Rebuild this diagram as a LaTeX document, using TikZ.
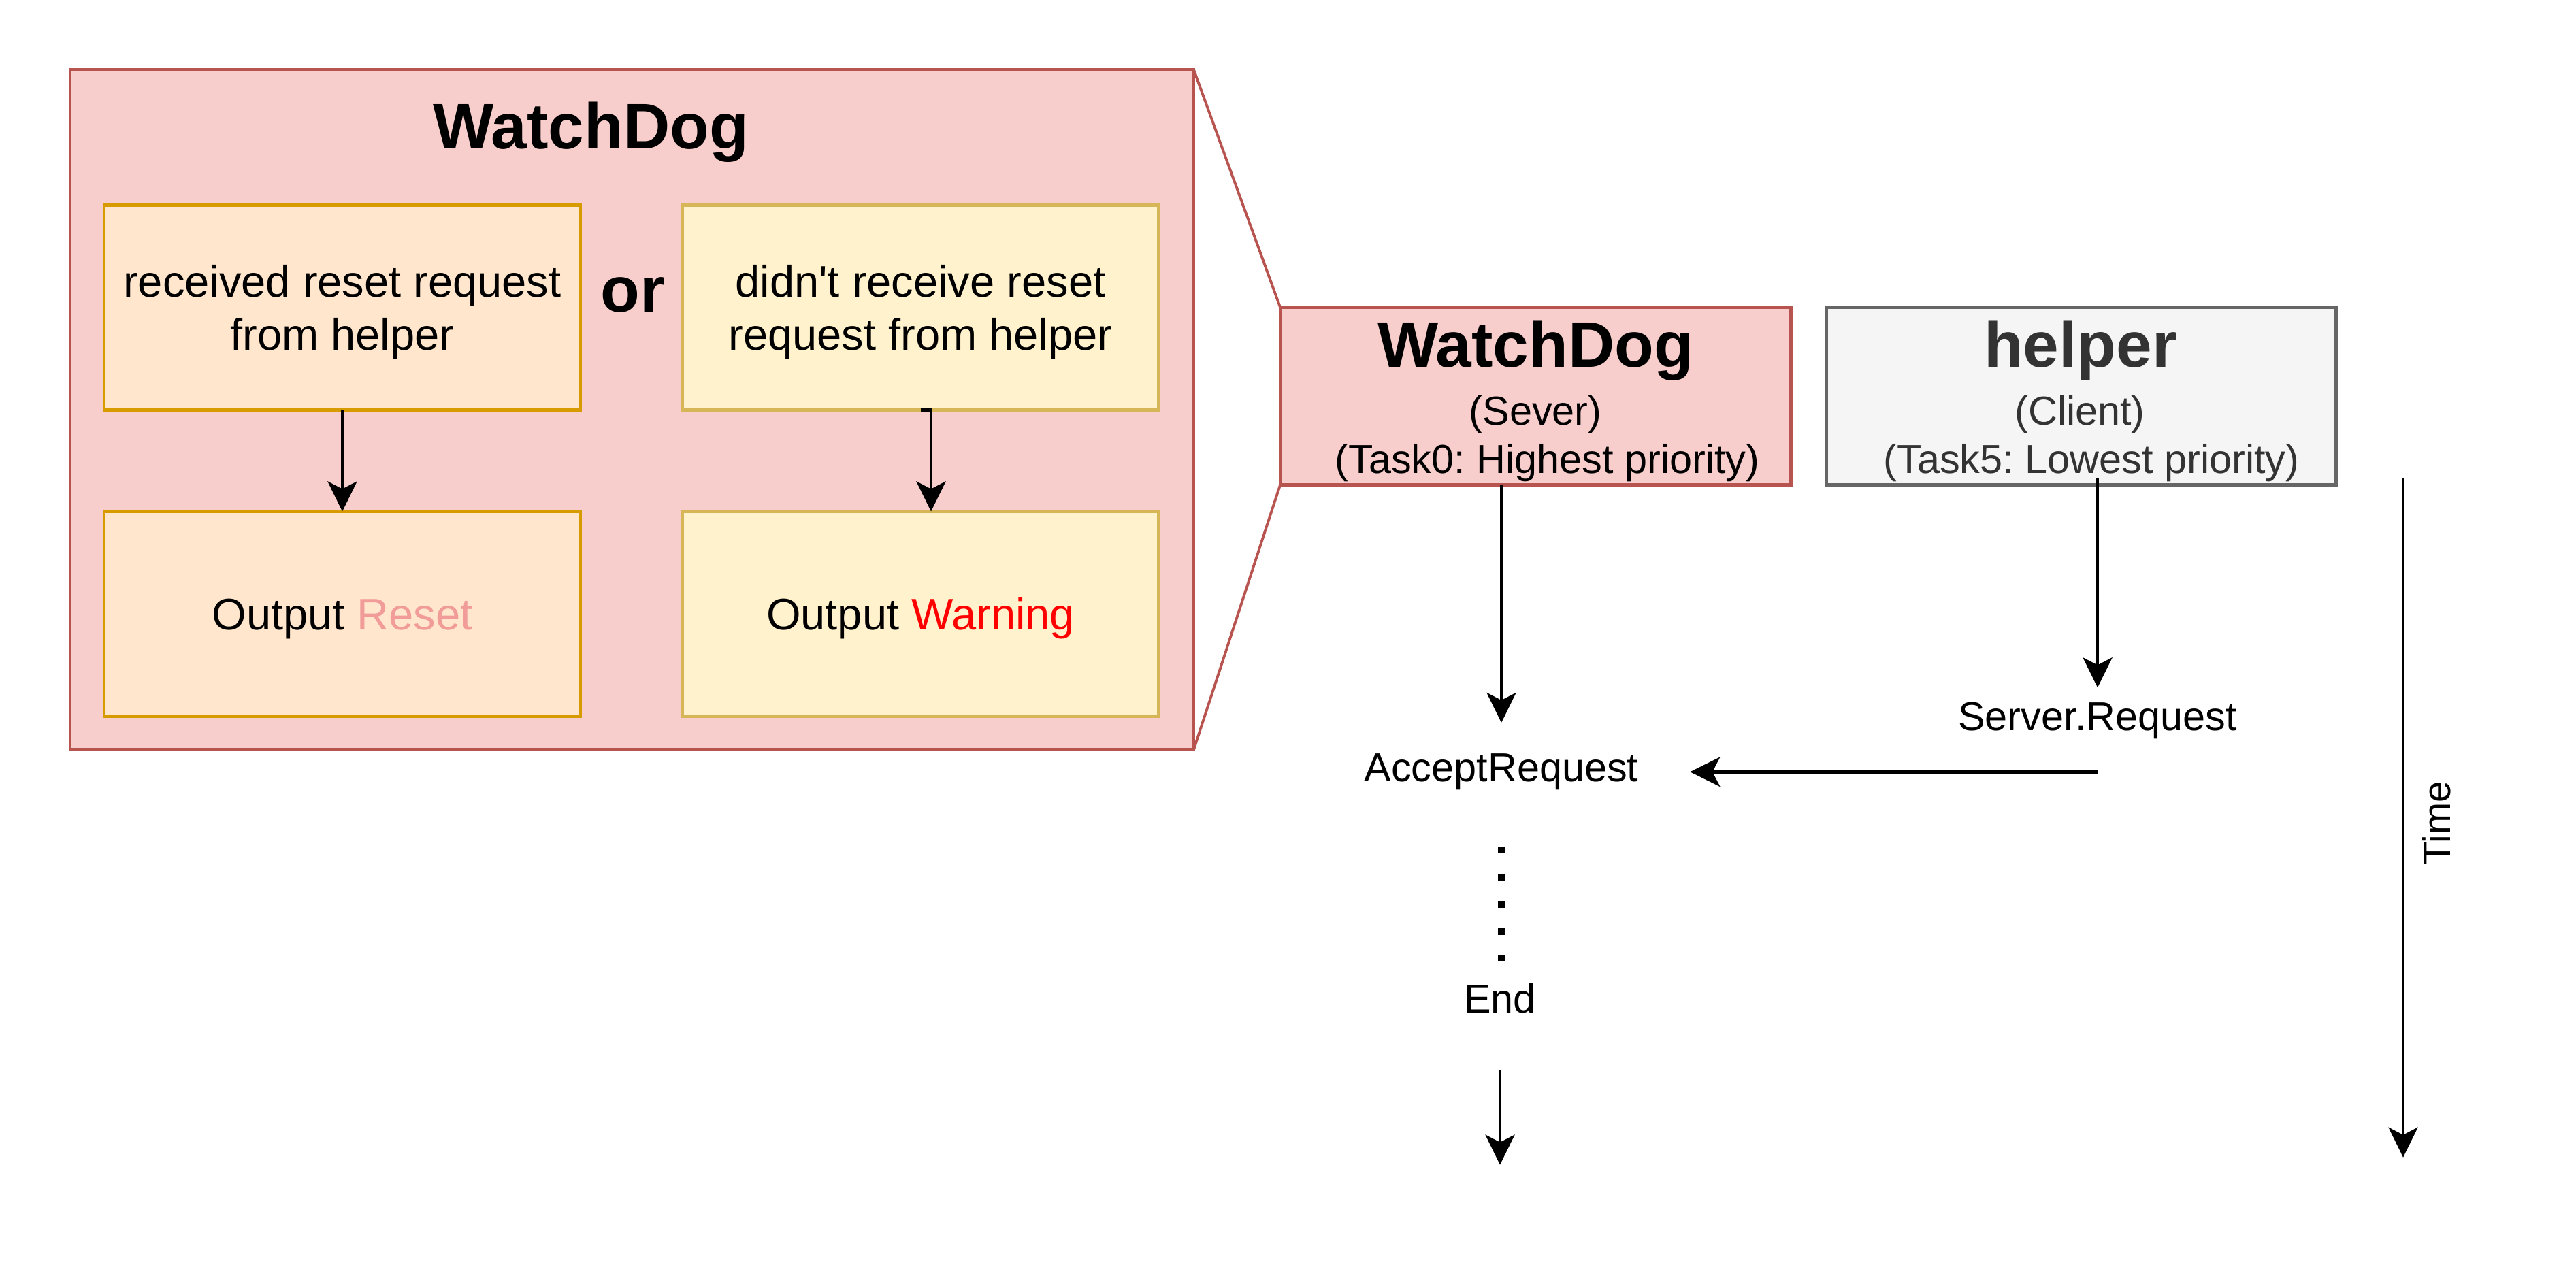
\documentclass[tikz,border=0pt]{standalone}
\usepackage{fontspec}
\setmainfont{Liberation Sans}
\usetikzlibrary{arrows.meta}
\frenchspacing

\definecolor{wdfill}{HTML}{F8CECC}
\definecolor{wdline}{HTML}{B85450}
\definecolor{hpfill}{HTML}{F5F5F5}
\definecolor{hpline}{HTML}{666666}
\definecolor{hptext}{HTML}{333333}
\definecolor{okfill}{HTML}{FFE6CC}
\definecolor{okline}{HTML}{D79B00}
\definecolor{nofill}{HTML}{FFF2CC}
\definecolor{noline}{HTML}{D6B656}
\definecolor{resetcol}{HTML}{F19C99}

\newcommand{\toppad}{\rule{0pt}{6.1mm}}

\begin{document}
\begin{tikzpicture}
[line join=miter,
  wdbox/.style={rectangle, draw=wdline, fill=wdfill, line width=1.4pt, outer sep=0pt, inner sep=0pt},
  hpbox/.style={rectangle, draw=hpline, fill=hpfill, line width=1.4pt, outer sep=0pt, inner sep=0pt},
  okbox/.style={rectangle, draw=okline, fill=okfill, line width=1.4pt, outer sep=0pt, minimum width=7cm, minimum height=3.01cm, align=center, font=\fontsize{18.5}{22.2}\selectfont},
  nobox/.style={okbox, draw=noline, fill=nofill},
  bigtitle/.style={inner sep=0pt, anchor=base, font=\fontsize{26.9}{32}\selectfont\bfseries},
  smalltxt/.style={inner sep=0pt, anchor=base, font=\fontsize{16.9}{20.3}\selectfont},
  arr/.style={-{Stealth[length=4.4mm, width=4.3mm, inset=1.1mm]}, line width=1.35pt},
  arrbig/.style={arr, line width=1.6pt},
  dotline/.style={line width=1mm, dash pattern=on 1mm off 3mm},
  zoomline/.style={draw=wdline, line width=1.1pt}
]
  \useasboundingbox (0,0) rectangle (37.85,-18.55);

  \node[wdbox, minimum width=16.51cm, minimum height=9.99cm] (outer) at (9.285,-6.02) {};
  \node[bigtitle] (outertitle) at (8.68,-2.186) {WatchDog};
  \node[okbox] (received) at (5.03,-4.52) {\toppad received reset request\\from helper};
  \node[nobox] (missed) at (13.525,-4.52) {\toppad didn\textquotesingle t receive reset\\request from helper};
  \node[okbox] (outreset) at (5.03,-9.02) {\toppad Output \textcolor{resetcol}{Reset}};
  \node[nobox] (outwarn) at (13.525,-9.02) {\toppad Output \textcolor{red}{Warning}};
  \node[bigtitle] (or) at (9.30,-4.58) {or};

  \draw[arr] (received) -- (outreset);
  \draw[arr] (missed.south) -| ([xshift=1.55mm]outwarn.north);

  \node[wdbox, minimum width=7.5cm, minimum height=2.61cm] (wd) at (22.56,-5.82) {};
  \node[bigtitle] (wdtitle) at (22.56,-5.39) {WatchDog};
  \node[smalltxt] (wdrole) at (22.56,-6.245) {(Sever)};
  \node[smalltxt] (wdtask) at (22.735,-6.95) {(Task0: Highest priority)};

  \node[hpbox, minimum width=7.49cm, minimum height=2.61cm] (helper) at (30.575,-5.82) {};
  \node[bigtitle, text=hptext] (hptitle) at (30.57,-5.39) {helper};
  \node[smalltxt, text=hptext] (hprole) at (30.56,-6.245) {(Client)};
  \node[smalltxt, text=hptext] (hptask) at (30.73,-6.95) {(Task5: Lowest priority)};

  \draw[zoomline] (outer.north east) -- (wd.north west);
  \draw[zoomline] (outer.south east) -- (wd.south west);

  \node[smalltxt] (accept) at (22.06,-11.485) {AcceptRequest};
  \node[smalltxt] (server) at (30.82,-10.735) {Server.Request};
  \node[smalltxt] (end) at (22.04,-14.88) {End};
  \coordinate (endtip) at (22.04,-17.116);

  \draw[arr, shorten >=4.5mm] (wd.south -| accept.north) -- (accept.north);
  \draw[arr, shorten <=-1mm, shorten >=2.1mm] (helper.south -| server.north) -- (server.north);
  \draw[arrbig, shorten >=7.5mm] (accept.east -| server.south) -- (accept.east);
  \draw[dotline, shorten <=8.2mm, shorten >=3.2mm] (accept.south) -- (accept.south |- end.north);
  \draw[arr, shorten <=8.3mm] (end.south) -- (endtip);

  \coordinate (timetop) at (35.31,-7.025);
  \coordinate (timeend) at (35.31,-17.007);
  \draw[arr] (timetop) -- (timeend);
  \node[inner sep=0pt, rotate=90, font=\fontsize{16.1}{19.3}\selectfont] (time) at (35.80,-12.10) {Time};
\end{tikzpicture}
\end{document}
